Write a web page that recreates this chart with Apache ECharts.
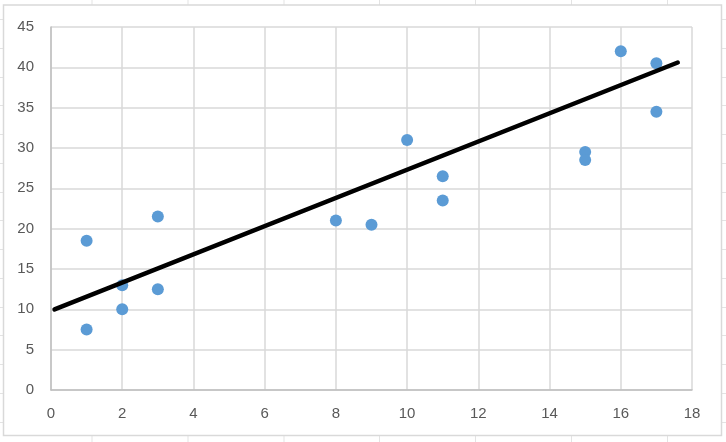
<!DOCTYPE html>
<html>
<head>
<meta charset="utf-8">
<script src="https://cdn.jsdelivr.net/npm/echarts@6/dist/echarts.min.js"></script>
<style>
html,body{margin:0;padding:0;background:#fff;}
#c{width:726px;height:442px;}
</style>
</head>
<body>
<div id="c"></div>
<script>
// Data
var pointX = [1, 1, 2, 2, 3, 3, 8, 9, 10, 11, 11, 15, 15, 16, 17, 17];
var pointY = [18.5, 7.5, 13, 10, 21.5, 12.5, 21, 20.5, 31, 26.5, 23.5, 29.5, 28.5, 42, 40.5, 34.5];
var trendX = [0.1, 17.6];
var trendY = [10, 40.6];
var xTicks = [0, 2, 4, 6, 8, 10, 12, 14, 16, 18];
var yTicks = [0, 5, 10, 15, 20, 25, 30, 35, 40, 45];

var chart = echarts.init(document.getElementById('c'));

// spreadsheet cell lines visible around the chart frame
var cellLines = [];
var colXs = [92, 188, 284, 379.5, 475.5, 571.5, 667.5];
colXs.forEach(function (x) {
  cellLines.push({type: 'line', z: -10, shape: {x1: x, y1: 0, x2: x, y2: 5}, style: {stroke: '#e3e3e3', lineWidth: 1}});
  cellLines.push({type: 'line', z: -10, shape: {x1: x, y1: 436, x2: x, y2: 442}, style: {stroke: '#e3e3e3', lineWidth: 1}});
});
for (var k = 0; k < 15; k++) {
  var y = Math.round(19 + 28.75 * k) + 0.5;
  cellLines.push({type: 'line', z: -10, shape: {x1: 0, y1: y, x2: 3, y2: y}, style: {stroke: '#e3e3e3', lineWidth: 1}});
  cellLines.push({type: 'line', z: -10, shape: {x1: 722, y1: y, x2: 726, y2: y}, style: {stroke: '#e3e3e3', lineWidth: 1}});
}
cellLines.push({type: 'rect', z: -5, shape: {x: 3.5, y: 5, width: 718, height: 430.5},
  style: {fill: '#fff', stroke: '#d9d9d9', lineWidth: 1.5}});

var pts = pointX.map(function (x, i) { return [x, pointY[i]]; });
var trend = trendX.map(function (x, i) { return [x, trendY[i]]; });

var labelStyle = {color: '#595959', fontSize: 15, fontFamily: 'Liberation Sans'};

chart.setOption({
  animation: false,
  backgroundColor: '#fff',
  graphic: cellLines,
  grid: {left: 51, right: 34, top: 27, bottom: 52},
  xAxis: {
    type: 'value', min: xTicks[0], max: xTicks[xTicks.length - 1], interval: 2,
    axisLine: {show: true, onZero: false, lineStyle: {color: '#bfbfbf', width: 1.5}},
    axisTick: {show: false},
    axisLabel: Object.assign({margin: 16}, labelStyle),
    splitLine: {show: true, lineStyle: {color: '#d9d9d9', width: 1.5}}
  },
  yAxis: {
    type: 'value', min: yTicks[0], max: yTicks[yTicks.length - 1], interval: 5,
    axisLine: {show: true, onZero: false, lineStyle: {color: '#bfbfbf', width: 1.5}},
    axisTick: {show: false},
    axisLabel: Object.assign({margin: 17}, labelStyle),
    splitLine: {show: true, lineStyle: {color: '#d9d9d9', width: 1.5}}
  },
  series: [
    {
      type: 'scatter', data: pts, symbol: 'circle', symbolSize: 12,
      itemStyle: {color: '#5b9bd5', opacity: 1}, z: 3
    },
    {
      type: 'line', data: trend, showSymbol: false, symbol: 'none',
      lineStyle: {color: '#000', width: 4.5, cap: 'round'}, z: 4
    }
  ]
});
</script>
</body>
</html>
